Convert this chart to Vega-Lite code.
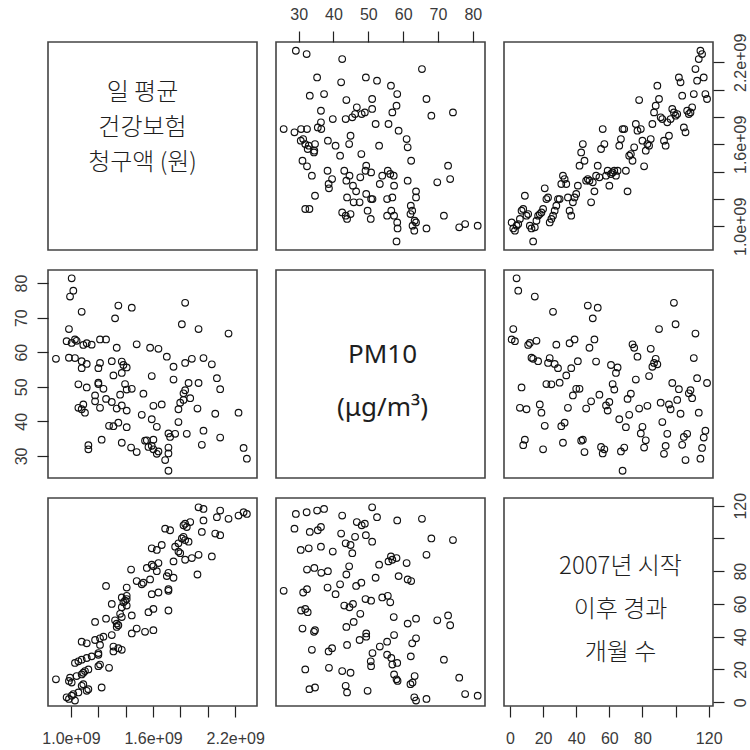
{
"$schema": "https://vega.github.io/schema/vega-lite/v6.json",
"background": "white",
"padding": {"left": 12, "top": 5, "right": 1, "bottom": 0},
"columns": 3,
"spacing": {"row": 20, "column": 19},
"bounds": "flush",
"config": {
  "view": {"stroke": "#444444", "strokeWidth": 1.6},
  "axis": {"domain": false, "grid": false, "tickSize": 11, "tickColor": "#222", "tickWidth": 1.2, "labelFont": "Liberation Sans", "labelFontSize": 16, "labelColor": "#3a3a3a", "labelPadding": 8, "labelOverlap": false, "labelFlush": false}
},
"datasets": {
  "obs": [
{"m":1,"pm":63.7,"c":1029000000},{"m":2,"pm":66.7,"c":985000000},{"m":3,"pm":63.2,"c":968000000},{"m":4,"pm":81.4,"c":1005000000},{"m":5,"pm":77.8,"c":1017000000},
{"m":6,"pm":43.9,"c":1054000000},{"m":7,"pm":49.8,"c":1115000000},{"m":8,"pm":33.1,"c":1127000000},{"m":9,"pm":34.7,"c":1224000000},{"m":10,"pm":43.5,"c":1078000000},
{"m":11,"pm":62.1,"c":1090000000},{"m":12,"pm":62.7,"c":1005000000},{"m":13,"pm":58.4,"c":985000000},{"m":14,"pm":58.1,"c":890000000},{"m":15,"pm":76.1,"c":993000000},
{"m":16,"pm":63.3,"c":1041000000},{"m":17,"pm":57.4,"c":1078000000},{"m":18,"pm":44.9,"c":1090000000},{"m":19,"pm":42.5,"c":1102000000},{"m":20,"pm":31.9,"c":1127000000},
{"m":21,"pm":38.7,"c":1278000000},{"m":22,"pm":50.8,"c":1200000000},{"m":23,"pm":56.9,"c":1212000000},{"m":24,"pm":58.3,"c":1029000000},{"m":25,"pm":50.7,"c":1054000000},
{"m":26,"pm":71.7,"c":1078000000},{"m":27,"pm":56.6,"c":1115000000},{"m":28,"pm":62.2,"c":1151000000},{"m":29,"pm":55.4,"c":1200000000},{"m":30,"pm":51.2,"c":1200000000},
{"m":31,"pm":38.6,"c":1310000000},{"m":32,"pm":33.8,"c":1371000000},{"m":33,"pm":39.6,"c":1346000000},{"m":34,"pm":53.3,"c":1310000000},{"m":35,"pm":43.9,"c":1212000000},
{"m":36,"pm":62.6,"c":1115000000},{"m":37,"pm":55.4,"c":1078000000},{"m":38,"pm":47.5,"c":1176000000},{"m":39,"pm":63.7,"c":1212000000},{"m":40,"pm":49.4,"c":1237000000},
{"m":41,"pm":57.4,"c":1298000000},{"m":42,"pm":49.4,"c":1444000000},{"m":43,"pm":34.4,"c":1541000000},{"m":44,"pm":34.7,"c":1602000000},{"m":45,"pm":31.1,"c":1480000000},
{"m":46,"pm":43.7,"c":1334000000},{"m":47,"pm":73.5,"c":1346000000},{"m":48,"pm":61.3,"c":1334000000},{"m":49,"pm":45.8,"c":1176000000},{"m":50,"pm":69.8,"c":1322000000},
{"m":51,"pm":63.7,"c":1256000000},{"m":52,"pm":57.3,"c":1371000000},{"m":53,"pm":72.9,"c":1444000000},{"m":54,"pm":47.7,"c":1359000000},{"m":55,"pm":32.6,"c":1566000000},
{"m":56,"pm":30.7,"c":1712000000},{"m":57,"pm":31.9,"c":1602000000},{"m":58,"pm":44.6,"c":1371000000},{"m":59,"pm":43.1,"c":1407000000},{"m":60,"pm":45.6,"c":1298000000},
{"m":61,"pm":56.3,"c":1383000000},{"m":62,"pm":50.8,"c":1395000000},{"m":63,"pm":49.2,"c":1407000000},{"m":64,"pm":54.0,"c":1371000000},{"m":65,"pm":55.6,"c":1407000000},
{"m":66,"pm":40.6,"c":1590000000},{"m":67,"pm":31.3,"c":1639000000},{"m":68,"pm":25.7,"c":1712000000},{"m":69,"pm":32.4,"c":1712000000},{"m":70,"pm":38.3,"c":1407000000},
{"m":71,"pm":46.5,"c":1256000000},{"m":72,"pm":41.9,"c":1517000000},{"m":73,"pm":48.0,"c":1529000000},{"m":74,"pm":62.3,"c":1480000000},{"m":75,"pm":61.3,"c":1578000000},
{"m":76,"pm":52.1,"c":1749000000},{"m":77,"pm":58.7,"c":1700000000},{"m":78,"pm":43.7,"c":1924000000},{"m":79,"pm":36.5,"c":1712000000},{"m":80,"pm":38.4,"c":1627000000},
{"m":81,"pm":32.4,"c":1439000000},{"m":82,"pm":34.5,"c":1554000000},{"m":83,"pm":44.5,"c":1602000000},{"m":84,"pm":53.1,"c":1590000000},{"m":85,"pm":61.0,"c":1639000000},
{"m":86,"pm":55.8,"c":1749000000},{"m":87,"pm":56.9,"c":1834000000},{"m":88,"pm":58.1,"c":1883000000},{"m":89,"pm":56.5,"c":2029000000},{"m":90,"pm":66.7,"c":1932000000},
{"m":91,"pm":45.4,"c":1798000000},{"m":92,"pm":39.8,"c":1785000000},{"m":93,"pm":30.6,"c":1627000000},{"m":94,"pm":32.9,"c":1590000000},{"m":95,"pm":36.4,"c":1761000000},
{"m":96,"pm":44.9,"c":1663000000},{"m":97,"pm":43.5,"c":1785000000},{"m":98,"pm":51.1,"c":1859000000},{"m":99,"pm":74.3,"c":1834000000},{"m":100,"pm":68.1,"c":1810000000},
{"m":101,"pm":46.2,"c":1822000000},{"m":102,"pm":49.3,"c":2090000000},{"m":103,"pm":42.2,"c":2054000000},{"m":104,"pm":33.2,"c":1956000000},{"m":105,"pm":35.5,"c":1724000000},
{"m":106,"pm":28.8,"c":1688000000},{"m":107,"pm":36.4,"c":1846000000},{"m":108,"pm":48.1,"c":1822000000},{"m":109,"pm":49.0,"c":1834000000},{"m":110,"pm":46.7,"c":1871000000},
{"m":111,"pm":58.3,"c":1968000000},{"m":112,"pm":65.4,"c":2151000000},{"m":113,"pm":52.5,"c":2066000000},{"m":114,"pm":42.5,"c":2224000000},{"m":115,"pm":29.2,"c":2285000000},
{"m":116,"pm":32.3,"c":2261000000},{"m":117,"pm":35.3,"c":2090000000},{"m":118,"pm":37.3,"c":1968000000},{"m":119,"pm":51.1,"c":1932000000}
  ],
  "lab1": [{"t":"일 평균","k":1},{"t":"건강보험","k":2},{"t":"청구액 (원)","k":3}],
  "lab2": [{"t":"PM10","k":1},{"t":"(μg/m³)","k":2}],
  "lab3": [{"t":"2007년 시작","k":1},{"t":"이후 경과","k":2},{"t":"개월 수","k":3}]
},
"concat": [
  {"width":209,"height":208,"data":{"name":"lab1"},
   "mark":{"type":"text","font":"Noto Sans CJK KR","fontSize":24,"fontWeight":300,"baseline":"middle","align":"center","dx":-10,"color":"#1e1e1e"},
   "encoding":{"text":{"field":"t"},"y":{"field":"k","type":"quantitative","scale":{"domain":[-0.457,5.486],"reverse":true,"nice":false,"zero":false},"axis":null}}},
  {"width":209,"height":208,"data":{"name":"obs"},
   "mark":{"type":"point","filled":false,"size":44,"stroke":"#111","strokeWidth":1.15,"opacity":1},
   "encoding":{
     "x":{"field":"pm","type":"quantitative","scale":{"domain":[23.5,83.5],"nice":false,"zero":false},"axis":{"orient":"top","values":[30,40,50,60,70,80],"labelPadding":9,"title":null}},
     "y":{"field":"c","type":"quantitative","scale":{"domain":[827000000,2349000000],"nice":false,"zero":false},"axis":null}}},
  {"width":209,"height":208,"data":{"name":"obs"},
   "mark":{"type":"point","filled":false,"size":44,"stroke":"#111","strokeWidth":1.15,"opacity":1},
   "encoding":{
     "x":{"field":"m","type":"quantitative","scale":{"domain":[-3.6,122.6],"nice":false,"zero":false},"axis":null},
     "y":{"field":"c","type":"quantitative","scale":{"domain":[827000000,2349000000],"nice":false,"zero":false},"axis":{"orient":"right","values":[1000000000,1200000000,1400000000,1600000000,1800000000,2000000000,2200000000],"labelExpr":"datum.value == 1000000000 ? '1.0e+09' : datum.value == 1600000000 ? '1.6e+09' : datum.value == 2200000000 ? '2.2e+09' : ''","labelAngle":270,"labelAlign":"center","labelBaseline":"top","labelPadding":8,"title":null}}}},
  {"width":209,"height":208,"data":{"name":"obs"},
   "mark":{"type":"point","filled":false,"size":44,"stroke":"#111","strokeWidth":1.15,"opacity":1},
   "encoding":{
     "x":{"field":"c","type":"quantitative","scale":{"domain":[832000000,2359000000],"nice":false,"zero":false},"axis":null},
     "y":{"field":"pm","type":"quantitative","scale":{"domain":[23.6,83.8],"nice":false,"zero":false},"axis":{"orient":"left","values":[30,40,50,60,70,80],"labelAngle":270,"labelAlign":"center","labelBaseline":"bottom","title":null}}}},
  {"width":209,"height":208,"data":{"name":"lab2"},
   "mark":{"type":"text","font":"Noto Sans","fontSize":26,"baseline":"middle","align":"center","dx":2,"color":"#1e1e1e"},
   "encoding":{"text":{"field":"t"},"y":{"field":"k","type":"quantitative","scale":{"domain":[-0.604,3.321],"reverse":true,"nice":false,"zero":false},"axis":null}}},
  {"width":209,"height":208,"data":{"name":"obs"},
   "mark":{"type":"point","filled":false,"size":44,"stroke":"#111","strokeWidth":1.15,"opacity":1},
   "encoding":{
     "x":{"field":"m","type":"quantitative","scale":{"domain":[-3.6,122.6],"nice":false,"zero":false},"axis":null},
     "y":{"field":"pm","type":"quantitative","scale":{"domain":[23.6,83.8],"nice":false,"zero":false},"axis":null}}},
  {"width":209,"height":208,"data":{"name":"obs"},
   "mark":{"type":"point","filled":false,"size":44,"stroke":"#111","strokeWidth":1.15,"opacity":1},
   "encoding":{
     "x":{"field":"c","type":"quantitative","scale":{"domain":[832000000,2359000000],"nice":false,"zero":false},"axis":{"orient":"bottom","values":[1000000000,1200000000,1400000000,1600000000,1800000000,2000000000,2200000000],"labelExpr":"datum.value == 1000000000 ? '1.0e+09' : datum.value == 1600000000 ? '1.6e+09' : datum.value == 2200000000 ? '2.2e+09' : ''","labelPadding":13,"title":null}},
     "y":{"field":"m","type":"quantitative","scale":{"domain":[-2.3,124.7],"nice":false,"zero":false},"axis":null}}},
  {"width":209,"height":208,"data":{"name":"obs"},
   "mark":{"type":"point","filled":false,"size":44,"stroke":"#111","strokeWidth":1.15,"opacity":1},
   "encoding":{
     "x":{"field":"pm","type":"quantitative","scale":{"domain":[23.5,83.5],"nice":false,"zero":false},"axis":null},
     "y":{"field":"m","type":"quantitative","scale":{"domain":[-2.3,124.7],"nice":false,"zero":false},"axis":null}}},
  {"width":209,"height":208,
   "layer":[
     {"data":{"name":"obs"},"mark":{"type":"point","opacity":0},
      "encoding":{
        "x":{"field":"m","type":"quantitative","scale":{"domain":[-3.6,122.6],"nice":false,"zero":false},"axis":{"orient":"bottom","values":[0,20,40,60,80,100,120],"labelExpr":"datum.value == 100 ? '' : datum.label","labelPadding":13,"title":null}},
        "y":{"field":"m","type":"quantitative","scale":{"domain":[-2.3,124.7],"nice":false,"zero":false},"axis":{"orient":"right","values":[0,20,40,60,80,100,120],"labelExpr":"datum.value == 100 ? '' : datum.label","labelAngle":270,"labelAlign":"center","labelBaseline":"top","labelPadding":8,"title":null}}}},
     {"data":{"name":"lab3"},
      "mark":{"type":"text","font":"Noto Sans CJK KR","fontSize":24,"fontWeight":300,"baseline":"middle","align":"center","dx":12,"color":"#1e1e1e"},
      "encoding":{"text":{"field":"t"},"y":{"field":"k","type":"quantitative","scale":{"domain":[-0.605,4.232],"reverse":true,"nice":false,"zero":false},"axis":null}}}
   ],
   "resolve":{"scale":{"y":"independent"}}}
]
}
